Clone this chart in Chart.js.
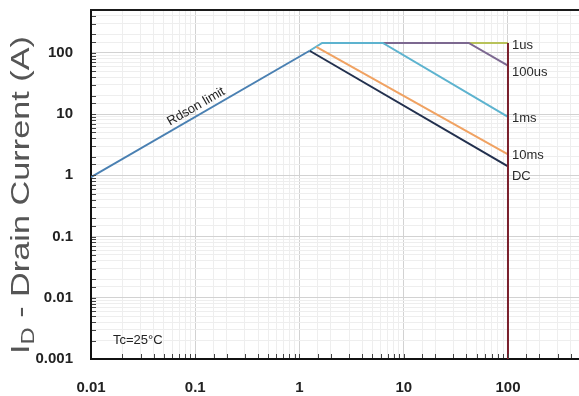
<!DOCTYPE html>
<html><head><meta charset="utf-8">
<script src="https://cdn.jsdelivr.net/npm/chart.js@4.4.1/dist/chart.umd.min.js"></script>
<style>html,body{margin:0;padding:0;background:#fff;overflow:hidden;} #wrap{width:579px;height:396px;position:relative;}</style>
</head><body><div id="wrap"><canvas id="c"></canvas></div>
<script>
// ---- data ----
const seriesNames = ['1us', '100us', '1ms', '10ms', 'DC'];
const rdsonX = [0.01, 1.25];
const rdsonY = [0.93, 108];
const us1X = [1.65, 100];
const us1Y = [145, 145];
const us100X = [1.65, 42, 100];
const us100Y = [145, 145, 62];
const ms1X = [1.25, 1.65, 6.3, 100];
const ms1Y = [108, 145, 145, 9];
const ms10X = [1.45, 100];
const ms10Y = [125, 2.2];
const dcX = [1.25, 100];
const dcY = [108, 1.4];
const vdsX = [100, 100];
const vdsY = [0.001, 145];
const xTickLabels = ['0.01', '0.1', '1', '10', '100'];
const yTickLabels = ['0.001', '0.01', '0.1', '1', '10', '100'];
const xRange = [0.01, 480];
const yRange = [0.001, 500];
const yTitleMain = ' - Drain Current (A)';
const noteText = 'Tc=25°C';
const rdsonText = 'Rdson limit';

function pts(xs, ys) { return xs.map((x, i) => ({ x: x, y: ys[i] })); }
function isDecade(v) { const l = Math.log10(v); return Math.abs(l - Math.round(l)) < 1e-6; }
function labelFor(v, list) {
  if (!isDecade(v)) return '';
  const s = list.find(t => Math.abs(parseFloat(t) - v) / v < 1e-6);
  return s || '';
}

const FONT = "'Liberation Sans', Arial, sans-serif";

const decor = {
  id: 'decor',
  afterDraw(chart) {
    const { ctx, chartArea: a, scales: { x, y } } = chart;
    ctx.save();
    // top frame line
    ctx.strokeStyle = '#1a1a1a'; ctx.lineWidth = 2;
    ctx.beginPath(); ctx.moveTo(a.left - 1, a.top); ctx.lineTo(a.right, a.top); ctx.stroke();
    // small inner tick marks
    ctx.lineWidth = 1; ctx.strokeStyle = '#444';
    x.ticks.forEach(t => {
      const px = Math.round(x.getPixelForValue(t.value)) + 0.5;
      if (px <= a.left + 2 || px >= a.right - 1) return;
      ctx.beginPath(); ctx.moveTo(px, a.bottom - 1); ctx.lineTo(px, a.bottom - 5); ctx.stroke();
    });
    y.ticks.forEach(t => {
      const py = Math.round(y.getPixelForValue(t.value)) + 0.5;
      if (py <= a.top + 2 || py >= a.bottom - 1) return;
      ctx.beginPath(); ctx.moveTo(a.left + 1, py); ctx.lineTo(a.left + 5, py); ctx.stroke();
    });
    // end labels
    ctx.fillStyle = '#2a2a2a';
    ctx.font = '13px ' + FONT;
    ctx.textAlign = 'left'; ctx.textBaseline = 'middle';
    const endY = [us1Y[us1Y.length - 1], us100Y[us100Y.length - 1], ms1Y[ms1Y.length - 1], ms10Y[ms10Y.length - 1], dcY[dcY.length - 1]];
    const dy = [2, 7, 2, 1, 10];
    const lx = x.getPixelForValue(100) + 4;
    seriesNames.forEach((n, i) => {
      ctx.fillText(n, lx, y.getPixelForValue(endY[i]) + dy[i]);
    });
    // Rdson label along the line
    const x0 = x.getPixelForValue(rdsonX[0]), y0 = y.getPixelForValue(rdsonY[0]);
    const x1 = x.getPixelForValue(rdsonX[1]), y1 = y.getPixelForValue(rdsonY[1]);
    const ang = Math.atan2(y1 - y0, x1 - x0);
    const t = 0.5;
    const cx = x0 + (x1 - x0) * t, cy = y0 + (y1 - y0) * t;
    ctx.save();
    ctx.translate(cx, cy); ctx.rotate(ang);
    ctx.font = '13px ' + FONT; ctx.textAlign = 'center'; ctx.textBaseline = 'bottom';
    ctx.fillStyle = '#222';
    ctx.fillText(rdsonText, 0, -2);
    ctx.restore();
    // Tc note
    ctx.font = '13px ' + FONT; ctx.textAlign = 'left'; ctx.textBaseline = 'middle';
    ctx.fillStyle = '#222';
    ctx.fillText(noteText, a.left + 22, a.bottom - 19);
    // y-axis title with subscript
    ctx.save();
    ctx.translate(22, 195); ctx.rotate(-Math.PI / 2);
    ctx.fillStyle = '#555';
    const big = '26px ' + FONT, small = '18px ' + FONT;
    ctx.font = big; const wI = ctx.measureText('I').width;
    const wM = ctx.measureText(yTitleMain).width;
    ctx.font = small; const wD = ctx.measureText('D').width;
    const total = wI + wD + wM;
    const sc = 318 / total;
    ctx.scale(sc, 1);
    ctx.textBaseline = 'middle'; ctx.textAlign = 'left';
    let sx = -total / 2;
    ctx.font = big; ctx.fillText('I', sx, 0); sx += wI;
    ctx.font = small; ctx.fillText('D', sx, 7); sx += wD;
    ctx.font = big; ctx.fillText(yTitleMain, sx, 0);
    ctx.restore();
    ctx.restore();
  }
};

const lineDs = (label, data, color, order, width) => ({
  label, data, borderColor: color, backgroundColor: color, borderWidth: width || 2,
  pointRadius: 0, fill: false, tension: 0, order
});

new Chart(document.getElementById('c'), {
  type: 'line',
  data: {
    datasets: [
      lineDs('Rdson limit', pts(rdsonX, rdsonY), '#4a80b2', 1),
      lineDs('DC', pts(dcX, dcY), '#22304e', 2),
      lineDs('10ms', pts(ms10X, ms10Y), '#f0a262', 3),
      lineDs('1ms', pts(ms1X, ms1Y), '#5db3cf', 4),
      lineDs('100us', pts(us100X, us100Y), '#7c6890', 5),
      lineDs('1us', pts(us1X, us1Y), '#b8c25a', 6),
      lineDs('VDS', pts(vdsX, vdsY), '#7a1f2b', 0)
    ]
  },
  options: {
    responsive: true, maintainAspectRatio: false, animation: false,
    layout: { padding: { top: 10, right: 0, left: 0, bottom: 0 } },
    plugins: { legend: { display: false }, tooltip: { enabled: false } },
    scales: {
      x: {
        type: 'logarithmic', min: xRange[0], max: xRange[1],
        border: { color: '#111', width: 2 },
        grid: { drawTicks: false, color: c => isDecade(c.tick.value) ? '#d2d2d2' : '#eeeeee', lineWidth: 1 },
        ticks: { autoSkip: false, maxRotation: 0, minRotation: 0, padding: 20, color: '#222',
          font: { family: FONT, size: 15, weight: 'bold' },
          callback: v => labelFor(v, xTickLabels) },
        afterFit: s => { s.height = 37; s.paddingLeft = 0; s.paddingRight = 0; }
      },
      y: {
        type: 'logarithmic', min: yRange[0], max: yRange[1],
        border: { color: '#111', width: 2 },
        grid: { drawTicks: false, color: c => isDecade(c.tick.value) ? '#d2d2d2' : '#eeeeee', lineWidth: 1 },
        ticks: { autoSkip: false, padding: 18, color: '#222',
          font: { family: FONT, size: 15, weight: 'bold' },
          callback: v => labelFor(v, yTickLabels) },
        afterFit: s => { s.width = 91; s.paddingTop = 0; s.paddingBottom = 0; }
      }
    }
  },
  plugins: [decor]
});
</script></body></html>
